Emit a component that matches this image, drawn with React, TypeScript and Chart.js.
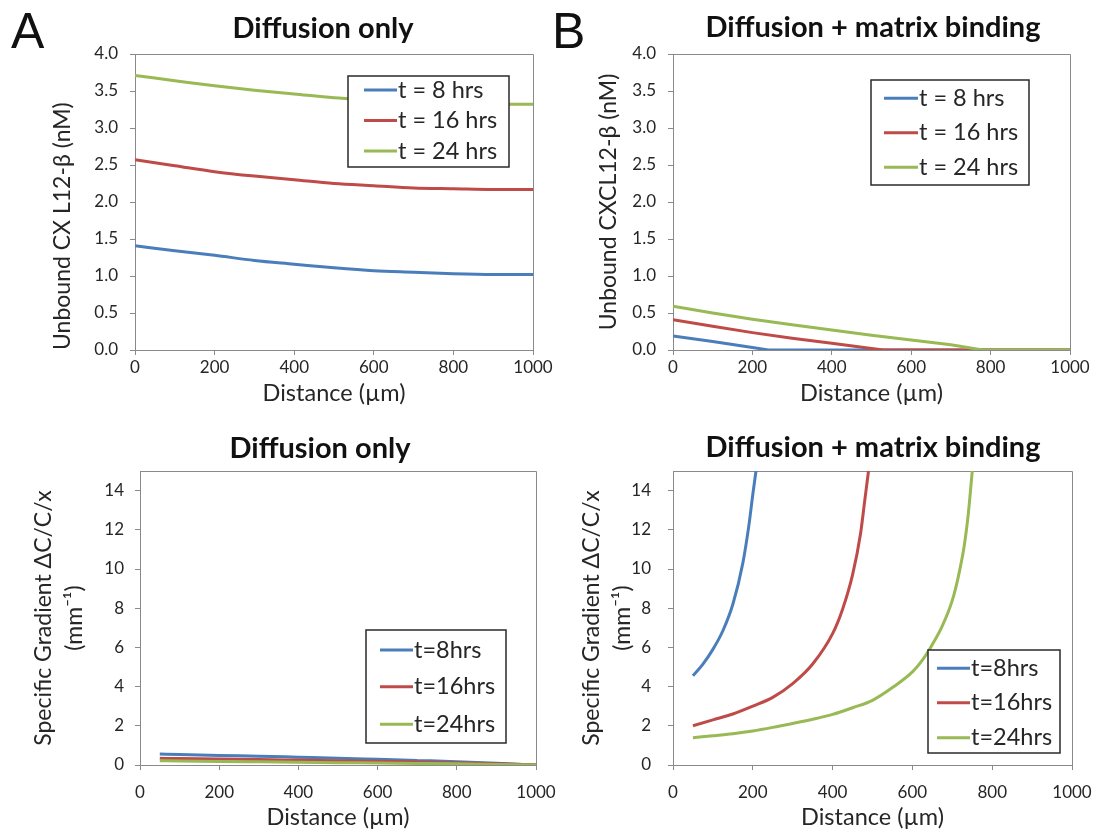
import React, { useEffect, useRef } from 'react';
import { Chart, registerables } from 'chart.js';

Chart.register(...registerables);

// ---------------- DATA ----------------
const legendTop = ['t = 8 hrs', 't = 16 hrs', 't = 24 hrs'];
const legendBottom = ['t=8hrs', 't=16hrs', 't=24hrs'];
const seriesColors = ['#4A7EBB', '#BE4B48', '#98B954'];

const xTicks = [0, 200, 400, 600, 800, 1000];

// Panel A: Diffusion only, unbound concentration (nM)
const distA = [0, 100, 200, 300, 400, 500, 600, 700, 800, 900, 1000];
const diffOnly8h = [1.41, 1.34, 1.28, 1.21, 1.16, 1.11, 1.07, 1.05, 1.03, 1.02, 1.02];
const diffOnly16h = [2.57, 2.49, 2.41, 2.35, 2.3, 2.25, 2.22, 2.19, 2.18, 2.17, 2.17];
const diffOnly24h = [3.71, 3.64, 3.57, 3.51, 3.46, 3.41, 3.38, 3.35, 3.33, 3.32, 3.32];

// Panel B: Diffusion + matrix binding, unbound concentration (nM)
const bind8hX = [0, 100, 200, 240, 400, 600, 800, 1000];
const bind8h = [0.19, 0.115, 0.035, 0, 0, 0, 0, 0];
const bind16hX = [0, 100, 200, 300, 400, 500, 530, 600, 800, 1000];
const bind16h = [0.41, 0.32, 0.235, 0.16, 0.09, 0.02, 0, 0, 0, 0];
const bind24hX = [0, 100, 200, 300, 400, 500, 600, 700, 780, 800, 1000];
const bind24h = [0.59, 0.5, 0.415, 0.34, 0.27, 0.2, 0.135, 0.07, 0, 0, 0];

// Panel C: Diffusion only, specific gradient (mm^-1)
const gradDiffX = [50, 100, 200, 300, 400, 500, 600, 700, 800, 900, 1000];
const gradDiff8h = [0.56, 0.54, 0.49, 0.45, 0.4, 0.35, 0.29, 0.23, 0.17, 0.09, 0];
const gradDiff16h = [0.34, 0.33, 0.3, 0.28, 0.25, 0.22, 0.19, 0.15, 0.11, 0.06, 0];
const gradDiff24h = [0.22, 0.21, 0.18, 0.16, 0.14, 0.12, 0.1, 0.08, 0.06, 0.03, 0];

// Panel D: Diffusion + matrix binding, specific gradient (mm^-1)
const gradBind8hX = [50, 75, 100, 125, 150, 175, 190, 200, 208];
const gradBind8h = [4.55, 5.15, 5.9, 6.85, 8.2, 10.3, 12.2, 13.8, 15.0];
const gradBind16hX = [50, 100, 150, 200, 250, 300, 350, 400, 425, 450, 470, 480, 490];
const gradBind16h = [2.0, 2.3, 2.6, 3.0, 3.45, 4.15, 5.15, 6.7, 7.95, 9.7, 11.8, 13.4, 15.0];
const gradBind24hX = [50, 100, 150, 200, 250, 300, 350, 400, 450, 500, 550, 600, 625, 650, 675, 700, 715, 730, 740, 750];
const gradBind24h = [1.39, 1.49, 1.6, 1.74, 1.92, 2.12, 2.33, 2.58, 2.92, 3.3, 3.95, 4.75, 5.35, 6.15, 7.1, 8.4, 9.6, 11.2, 12.8, 15.0];

// ---------------- STYLE / LAYOUT ----------------
const FONT = 'Lato';
const AXIS_GRAY = '#8a8a8a';
const TEXT = '#262626';

const pts = (xs: number[], ys: number[]) => xs.map((x, i) => ({ x, y: ys[i] }));

type LegendSpec = { x: number; y: number; w: number; h: number; rows: number[]; lineX0: number; lineX1: number; textX: number; };
type PanelSpec = {
  key: string;
  x: number; y: number; w: number; h: number;
  area: { left: number; top: number; right: number; bottom: number };
  series: { x: number[]; y: number[] }[];
  labels: string[];
  tension: number;
  yMax: number; yStep: number; yDecimals: number;
  yTitle: string | string[]; yTitleAlign: 'start' | 'center'; yTitlePad: number; yTitleLineHeight: number;
  yTickPad: number; xTickPad: number; xTitlePad: number;
  title: string; titleX: number; titleY: number;
  letter?: string; letterX?: number; letterY?: number;
  legend: LegendSpec;
};

const PANELS: PanelSpec[] = [
  {
    key: 'A', x: 0, y: 0, w: 560, h: 410,
    area: { left: 135, top: 54, right: 533, bottom: 350 },
    series: [{ x: distA, y: diffOnly8h }, { x: distA, y: diffOnly16h }, { x: distA, y: diffOnly24h }],
    labels: legendTop, tension: 0.4,
    yMax: 4, yStep: 0.5, yDecimals: 1,
    yTitle: 'Unbound CX L12-β (nM)', yTitleAlign: 'start', yTitlePad: 49, yTitleLineHeight: 1.2,
    yTickPad: 12, xTickPad: 2, xTitlePad: 2,
    title: 'Diffusion only', titleX: 323, titleY: 38,
    letter: 'A', letterX: 11, letterY: 48,
    legend: { x: 348, y: 76, w: 161, h: 91, rows: [90, 120.5, 151], lineX0: 364, lineX1: 397, textX: 398 },
  },
  {
    key: 'B', x: 548, y: 0, w: 547, h: 410,
    area: { left: 125, top: 54, right: 522, bottom: 350 },
    series: [{ x: bind8hX, y: bind8h }, { x: bind16hX, y: bind16h }, { x: bind24hX, y: bind24h }],
    labels: legendTop, tension: 0,
    yMax: 4, yStep: 0.5, yDecimals: 1,
    yTitle: 'Unbound CXCL12-β (nM)', yTitleAlign: 'center', yTitlePad: 47, yTitleLineHeight: 1.2,
    yTickPad: 12, xTickPad: 2, xTitlePad: 2,
    title: 'Diffusion + matrix binding', titleX: 325, titleY: 37,
    letter: 'B', letterX: 4, letterY: 48,
    legend: { x: 323, y: 80, w: 158, h: 105, rows: [98.3, 132.7, 167.3], lineX0: 336, lineX1: 370, textX: 371 },
  },
  {
    key: 'C', x: 0, y: 410, w: 560, h: 427,
    area: { left: 140, top: 61, right: 536, bottom: 355 },
    series: [{ x: gradDiffX, y: gradDiff8h }, { x: gradDiffX, y: gradDiff16h }, { x: gradDiffX, y: gradDiff24h }],
    labels: legendBottom, tension: 0.4,
    yMax: 15, yStep: 2, yDecimals: 0,
    yTitle: ['Specific Gradient ΔC/C/x', '(mm⁻¹)'], yTitleAlign: 'center', yTitlePad: 28, yTitleLineHeight: 1.35,
    yTickPad: 11, xTickPad: 12, xTitlePad: 5,
    title: 'Diffusion only', titleX: 320, titleY: 48,
    legend: { x: 366, y: 220, w: 140, h: 113, rows: [240, 276.7, 314.3], lineX0: 380, lineX1: 413, textX: 414 },
  },
  {
    key: 'D', x: 548, y: 410, w: 547, h: 427,
    area: { left: 125, top: 61, right: 524, bottom: 355 },
    series: [{ x: gradBind8hX, y: gradBind8h }, { x: gradBind16hX, y: gradBind16h }, { x: gradBind24hX, y: gradBind24h }],
    labels: legendBottom, tension: 0.4,
    yMax: 15, yStep: 2, yDecimals: 0,
    yTitle: ['Specific Gradient ΔC/C/x', '(mm⁻¹)'], yTitleAlign: 'center', yTitlePad: 28, yTitleLineHeight: 1.35,
    yTickPad: 17, xTickPad: 12, xTitlePad: 5,
    title: 'Diffusion + matrix binding', titleX: 325, titleY: 47,
    legend: { x: 380, y: 240, w: 132, h: 103, rows: [258.3, 292.7, 327.7], lineX0: 389, lineX1: 422, textX: 423 },
  },
];

function decorPlugin(p: PanelSpec) {
  return {
    id: 'decor' + p.key,
    beforeDatasetsDraw(chart: any) {
      const { ctx, chartArea: a } = chart;
      ctx.save();
      ctx.strokeStyle = AXIS_GRAY;
      ctx.lineWidth = 1;
      ctx.beginPath();
      ctx.moveTo(a.left, Math.round(a.top) + 0.5);
      ctx.lineTo(Math.round(a.right) + 0.5, Math.round(a.top) + 0.5);
      ctx.lineTo(Math.round(a.right) + 0.5, a.bottom);
      ctx.stroke();
      ctx.restore();
    },
    afterDraw(chart: any) {
      const { ctx } = chart;
      const lg = p.legend;
      ctx.save();
      ctx.fillStyle = '#ffffff';
      ctx.fillRect(lg.x, lg.y, lg.w, lg.h);
      ctx.strokeStyle = '#2a2a2a';
      ctx.lineWidth = 1.5;
      ctx.strokeRect(lg.x, lg.y, lg.w, lg.h);
      chart.data.datasets.forEach((ds: any, i: number) => {
        const yy = lg.rows[i];
        ctx.strokeStyle = ds.borderColor;
        ctx.lineWidth = 3;
        ctx.beginPath();
        ctx.moveTo(lg.lineX0, yy);
        ctx.lineTo(lg.lineX1, yy);
        ctx.stroke();
        ctx.fillStyle = TEXT;
        ctx.font = `23.5px ${FONT}`;
        ctx.textAlign = 'left';
        ctx.textBaseline = 'middle';
        ctx.fillText(ds.label, lg.textX, yy);
      });
      ctx.fillStyle = '#111';
      ctx.font = `bold 29px ${FONT}`;
      ctx.textAlign = 'center';
      ctx.textBaseline = 'alphabetic';
      ctx.fillText(p.title, p.titleX, p.titleY);
      if (p.letter) {
        ctx.font = `50px 'Liberation Sans'`;
        ctx.textAlign = 'left';
        ctx.fillStyle = '#111';
        ctx.fillText(p.letter, p.letterX, p.letterY);
      }
      ctx.restore();
    },
  };
}

function buildConfig(p: PanelSpec): any {
  const datasets = p.series.map((s, i) => ({
    label: p.labels[i],
    data: pts(s.x, s.y),
    borderColor: seriesColors[i],
    backgroundColor: seriesColors[i],
    borderWidth: 3,
    pointRadius: 0,
    fill: false,
    tension: p.tension,
    cubicInterpolationMode: p.tension > 0 ? 'monotone' : 'default',
    order: 3 - i,
  }));
  return {
    type: 'line',
    data: { datasets },
    options: {
      animation: false,
      responsive: false,
      devicePixelRatio: 1,
      events: [],
      layout: { padding: { left: 0, top: p.area.top, right: p.w - p.area.right, bottom: 0 } },
      plugins: { legend: { display: false }, title: { display: false }, tooltip: { enabled: false } },
      scales: {
        x: {
          type: 'linear', min: 0, max: 1000,
          afterFit: (s: any) => { s.height = p.h - p.area.bottom; s.paddingLeft = 0; s.paddingRight = 0; },
          afterBuildTicks: (s: any) => { s.ticks = xTicks.map((v) => ({ value: v })); },
          ticks: {
            font: { family: FONT, size: 17 }, color: TEXT, padding: p.xTickPad, maxRotation: 0, autoSkip: false,
            callback: (v: number) => String(v),
          },
          grid: { display: true, drawOnChartArea: false, drawTicks: true, tickLength: 5, color: AXIS_GRAY },
          border: { display: true, color: AXIS_GRAY, width: 1 },
          title: { display: true, text: 'Distance (µm)', color: TEXT, font: { family: FONT, size: 23.5 }, padding: { top: 0, bottom: p.xTitlePad } },
        },
        y: {
          type: 'linear', min: 0, max: p.yMax,
          afterFit: (s: any) => { s.width = p.area.left; s.paddingTop = 0; s.paddingBottom = 0; },
          ticks: {
            stepSize: p.yStep, includeBounds: false,
            font: { family: FONT, size: 17 }, color: TEXT, padding: p.yTickPad,
            callback: (v: number) => Number(v).toFixed(p.yDecimals),
          },
          grid: { display: true, drawOnChartArea: false, drawTicks: true, tickLength: 5, color: AXIS_GRAY },
          border: { display: true, color: AXIS_GRAY, width: 1 },
          title: {
            display: true, text: p.yTitle, align: p.yTitleAlign, color: TEXT,
            font: { family: FONT, size: 23, lineHeight: p.yTitleLineHeight },
            padding: { top: p.yTitlePad, bottom: 0 },
          },
        },
      },
    },
    plugins: [decorPlugin(p)],
  };
}

export default function App() {
  const r0 = useRef<HTMLCanvasElement>(null);
  const r1 = useRef<HTMLCanvasElement>(null);
  const r2 = useRef<HTMLCanvasElement>(null);
  const r3 = useRef<HTMLCanvasElement>(null);
  const refs = [r0, r1, r2, r3];

  useEffect(() => {
    const charts = PANELS.map((p, i) => new Chart(refs[i].current as HTMLCanvasElement, buildConfig(p)));
    return () => charts.forEach((c) => c.destroy());
  }, []);

  return (
    <div style={{ position: 'absolute', left: 0, top: 0, width: 1095, height: 837, background: '#ffffff', overflow: 'hidden' }}>
      {PANELS.map((p, i) => (
        <canvas
          key={p.key}
          ref={refs[i]}
          width={p.w}
          height={p.h}
          style={{ position: 'absolute', left: p.x, top: p.y, width: p.w, height: p.h }}
        />
      ))}
    </div>
  );
}
